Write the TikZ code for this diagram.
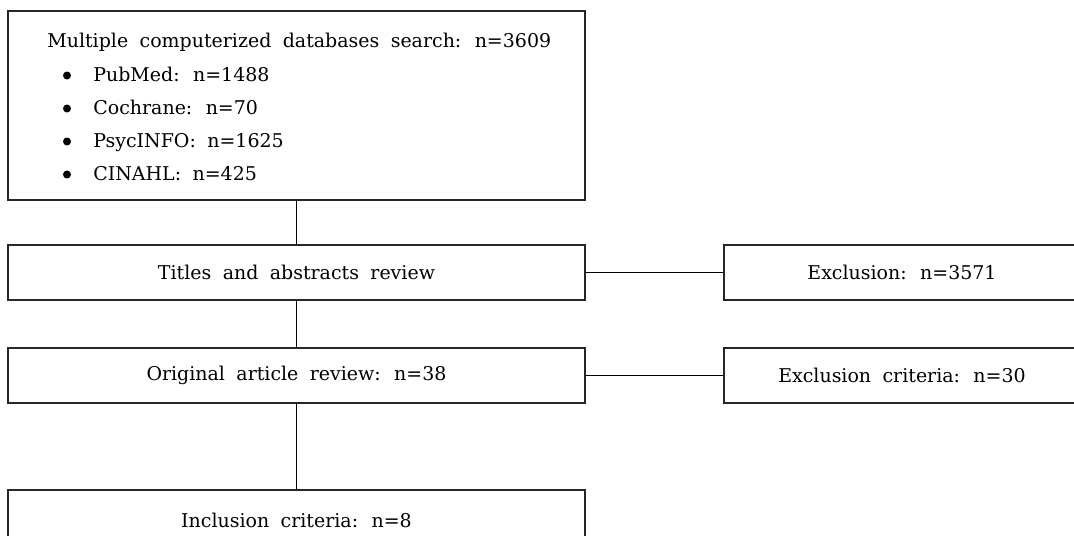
\documentclass[tikz,border=0pt]{standalone}
\usepackage{fontspec}
\setmainfont{DejaVu Serif}
\usepackage{tikz}
\usetikzlibrary{positioning,calc}

\newcommand{\widegap}{\spaceskip=0.6em plus 0.1em\relax}

\tikzset{
  box/.style={draw=black!85, line width=0.6pt, rectangle, inner sep=0pt},
  txt/.style={font=\fontsize{10.8}{12}\selectfont\widegap, inner sep=0pt},
  dot/.style={circle, fill=black, inner sep=0pt, minimum size=0.16cm}
}

\begin{document}
\begin{tikzpicture}
    \path[use as bounding box, clip] (0,0) rectangle (21.48,-10.70);
    % boxes
    \node[box, minimum width=11.54cm, minimum height=3.78cm] (search) at (5.93,-2.11) {};
    \node[box, minimum width=11.54cm, minimum height=1.10cm] (titles) at (5.93,-5.45) {};
    \node[box, minimum width=7.12cm,  minimum height=1.10cm] (excl)   at (18.04,-5.45) {};
    \node[box, minimum width=11.54cm, minimum height=1.10cm] (orig)   at (5.93,-7.51) {};
    \node[box, minimum width=7.12cm,  minimum height=1.10cm] (crit)   at (18.04,-7.51) {};
    \node[box, minimum width=11.54cm, minimum height=1.10cm] (incl)   at (5.93,-10.35) {};
    % texts
    \node[txt, anchor=base west] (head) at (0.94,-0.94) {Multiple computerized databases search: n=3609};
    \foreach \name/\lbl/\y in {pubmed/PubMed: n=1488/-1.62, cochrane/Cochrane: n=70/-2.28,
                               psyc/PsycINFO: n=1625/-2.94, cinahl/CINAHL: n=425/-3.60}{
        \node[txt, anchor=base west] (\name) at (1.86,\y) {\lbl};
        \node[dot] (b\name) at ($(1.34,\y)+(0,0.11)$) {};
    }
    \node[txt] at (titles) {Titles and abstracts review};
    \node[txt] at (excl) {Exclusion: n=3571};
    \node[txt] at (orig) {Original article review: n=38};
    \node[txt] at (crit) {Exclusion criteria: n=30};
    \node[txt] at (5.93,-10.40) {Inclusion criteria: n=8};
    % connectors
    \draw[line width=0.6pt] (search) -- (titles);
    \draw[line width=0.6pt] (titles) -- (excl);
    \draw[line width=0.6pt] (titles) -- (orig);
    \draw[line width=0.6pt] (orig) -- (crit);
    \draw[line width=0.6pt] (orig) -- (incl);
\end{tikzpicture}
\end{document}
